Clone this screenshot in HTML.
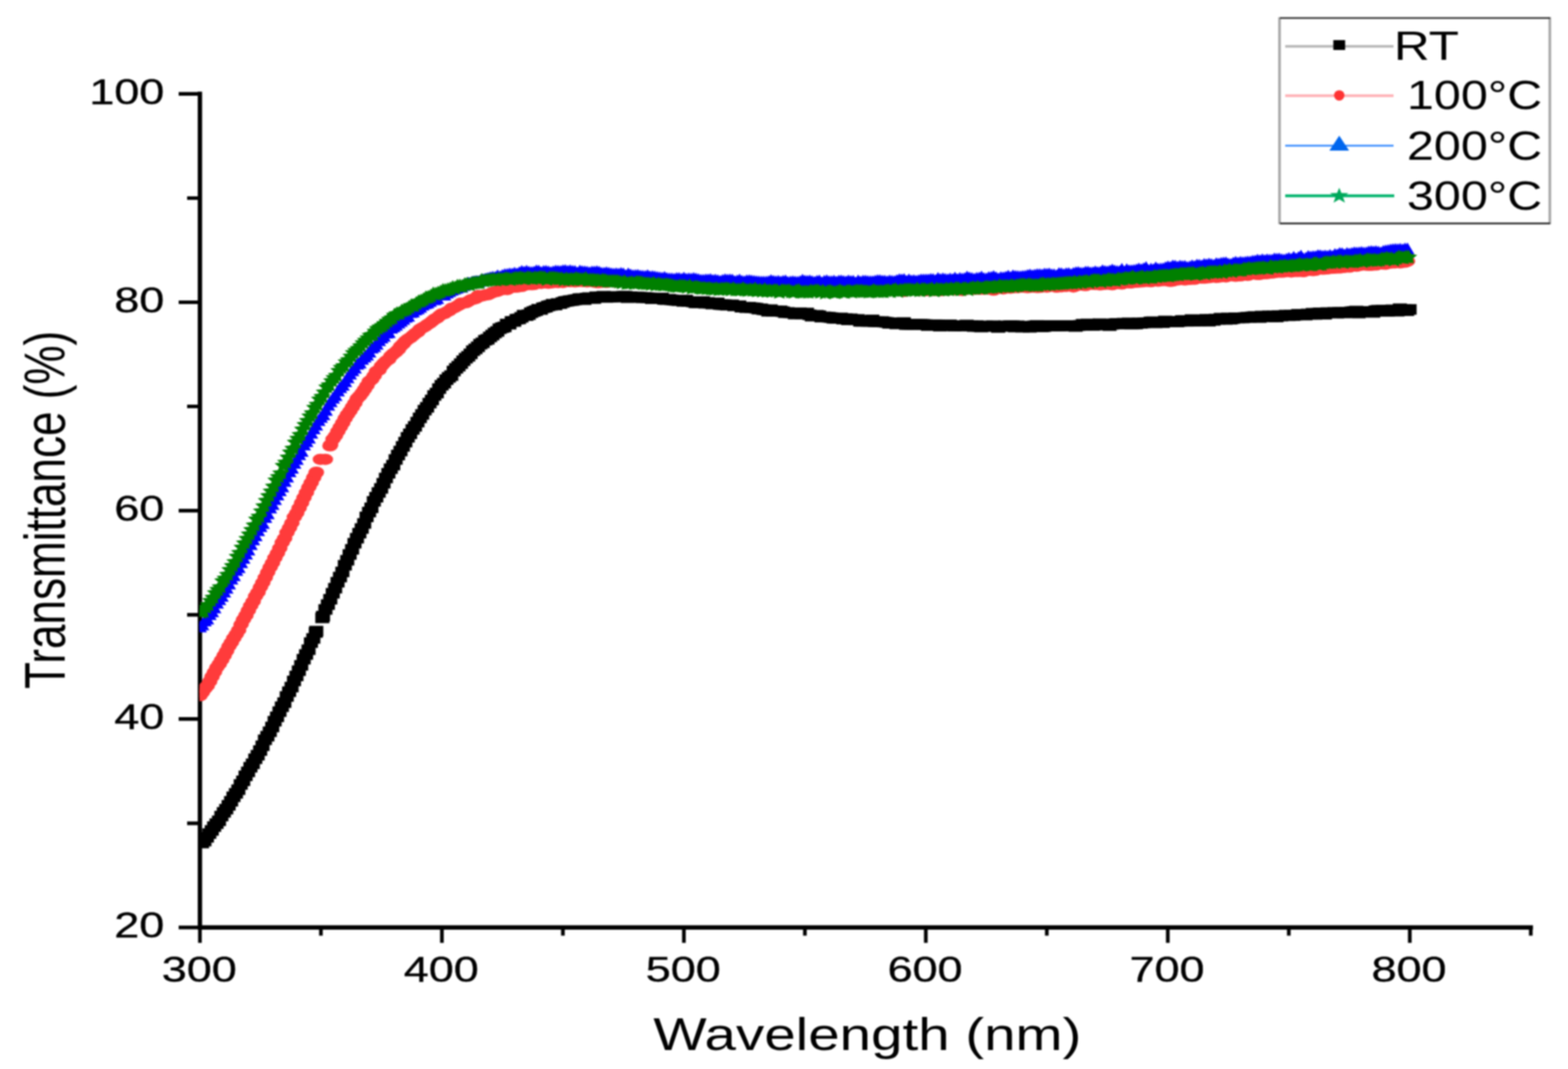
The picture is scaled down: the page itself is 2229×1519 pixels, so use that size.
<!DOCTYPE html>
<html><head><meta charset="utf-8"><title>Transmittance</title>
<style>html,body{margin:0;padding:0;background:#fff;overflow:hidden}svg{display:block}#w{filter:blur(1px)}</style>
</head><body><div id="w">
<svg width="2229" height="1519" viewBox="0 0 2229 1519">
<defs>
<marker id="mS" markerUnits="userSpaceOnUse" markerWidth="20" markerHeight="15" refX="10" refY="7.5" overflow="visible"><rect width="20" height="15" fill="#000"/></marker>
<marker id="mC" markerUnits="userSpaceOnUse" markerWidth="22" markerHeight="16" refX="11" refY="8" overflow="visible"><ellipse cx="11" cy="8" rx="11" ry="8" fill="#ff3b3b"/></marker>
<marker id="mT" markerUnits="userSpaceOnUse" markerWidth="20" markerHeight="17" refX="10" refY="9" overflow="visible"><path d="M10 0L20 17H0Z" fill="#0000ff"/></marker>
<marker id="mG" markerUnits="userSpaceOnUse" markerWidth="26" markerHeight="24" refX="13" refY="11.5" overflow="visible"><path d="M13.0 2.5 16.8 9.1 25.4 10.2 19.2 15.3 20.6 22.5 13.0 19.1 5.4 22.5 6.8 15.3 0.6 10.2 9.2 9.1Z" fill="#008000"/></marker>
<g id="glR" fill="#ff3b3b"><ellipse cx="455.5" cy="652.7" rx="11" ry="8"/><ellipse cx="462.5" cy="652.7" rx="11" ry="8"/></g>
<clipPath id="cp"><rect x="283.6" y="0" width="2000" height="1316"/></clipPath>
</defs>
<rect width="2229" height="1519" fill="#fff"/>
<g stroke="#000" stroke-width="6.2" fill="none" stroke-linecap="square">
<path d="M284.2 133.4V1317.8H2176.1"/>
</g>
<g stroke="#000" stroke-width="5.2" fill="none">
<path d="M254 1317.8H284.2M254 1021.7H284.2M254 725.6H284.2M254 429.5H284.2M254 133.4H284.2M266 1169.8H284.2M266 873.6H284.2M266 577.5H284.2M266 281.5H284.2M284.2 1317.8V1339.7M628.2 1317.8V1339.7M972.2 1317.8V1339.7M1316.1 1317.8V1339.7M1660.1 1317.8V1339.7M2004.1 1317.8V1339.7M456.2 1317.8V1329.5M800.2 1317.8V1329.5M1144.2 1317.8V1329.5M1488.1 1317.8V1329.5M1832.1 1317.8V1329.5M2176.1 1317.8V1329.5"/>
</g>
<g clip-path="url(#cp)">
<polyline fill="none" stroke="none" marker-start="url(#mS)" marker-mid="url(#mS)" marker-end="url(#mS)" points="287.2,1197.9 290.6,1195.1 294.1,1189.8 297.5,1184.5 301.0,1180.0 304.4,1174.6 307.8,1170.4 311.3,1166.3 314.7,1159.6 318.2,1154.3 321.6,1149.8 325.0,1144.3 328.5,1138.6 331.9,1132.2 335.4,1127.3 338.8,1122.1 342.2,1114.7 345.7,1109.5 349.1,1102.4 352.6,1096.8 356.0,1090.2 359.4,1085.3 362.9,1078.2 366.3,1073.1 369.8,1066.5 373.2,1059.7 376.6,1051.2 380.1,1046.1 383.5,1039.8 387.0,1033.0 390.4,1024.8 393.8,1018.6 397.3,1011.2 400.7,1004.2 404.2,998.4 407.6,989.7 411.0,982.9 414.5,976.3 417.9,967.6 421.4,960.5 424.8,953.0 428.2,945.4 431.7,936.7 435.1,930.0 438.6,923.2 442.0,913.1 445.4,907.2 448.9,898.7 449.6,896.8"/>
<polyline fill="none" stroke="none" marker-start="url(#mS)" marker-mid="url(#mS)" marker-end="url(#mS)" points="458.2,878.0 459.2,875.5 462.6,866.0 466.1,859.1 469.5,851.5 473.0,843.0 476.4,835.8 479.8,827.3 483.3,820.0 486.7,812.7 490.2,803.2 493.6,796.1 497.0,787.9 500.5,780.6 503.9,771.9 507.4,764.8 510.8,757.6 514.2,751.0 517.7,743.8 521.1,734.5 524.6,727.6 528.0,721.6 531.4,712.4 534.9,706.5 538.3,699.8 541.8,694.0 545.2,686.7 548.6,679.2 552.1,672.5 555.5,666.0 559.0,660.9 562.4,652.9 565.8,646.6 569.3,640.9 572.7,634.3 576.2,628.2 579.6,621.4 583.0,616.4 586.5,610.2 589.9,605.8 593.4,599.8 596.8,593.8 600.2,588.9 603.7,582.8 607.1,578.8 610.6,572.8 614.0,568.3 617.4,562.0 620.9,558.5 624.3,552.2 627.8,547.4 631.2,544.4 634.6,539.5 638.1,536.2 641.5,533.7 645.0,527.2 648.4,523.4 651.8,520.3 655.3,516.7 658.7,512.6 662.2,509.0 665.6,506.3 669.0,502.8 672.5,498.3 675.9,495.8 679.4,492.8 682.8,489.0 686.2,487.1 689.7,483.4 693.1,482.1 696.6,478.8 700.0,476.1 703.4,473.1 706.9,471.0 710.3,467.1 713.8,465.6 717.2,464.6 720.6,460.4 724.1,460.7 727.5,456.7 731.0,456.8 734.4,453.6 737.8,453.1 741.3,450.9 744.7,447.8 748.2,448.5 751.6,447.1 755.0,444.3 758.5,442.7 761.9,441.4 765.4,439.4 768.8,439.8 772.2,437.3 775.7,436.5 779.1,434.8 782.6,433.9 786.0,432.3 789.4,433.4 792.9,431.3 796.3,431.4 799.8,429.8 803.2,428.5 806.6,428.0 810.1,427.2 813.5,427.0 817.0,426.1 820.4,425.6 823.8,424.3 827.3,424.2 830.7,425.8 834.2,423.5 837.6,422.9 841.0,423.7 844.5,424.2 847.9,421.7 851.4,422.5 854.8,421.9 858.2,420.9 861.7,422.7 865.1,422.0 868.6,422.0 872.0,421.3 875.4,422.2 878.9,421.4 882.3,421.7 885.8,421.0 889.2,420.9 892.6,423.0 896.1,421.6 899.5,422.4 903.0,422.3 906.4,422.1 909.8,422.2 913.3,423.2 916.7,422.7 920.2,423.0 923.6,423.3 927.0,424.5 930.5,424.3 933.9,424.3 937.4,423.8 940.8,423.4 944.2,425.5 947.7,425.8 951.1,425.2 954.6,426.0 958.0,426.5 961.4,426.9 964.9,427.2 968.3,426.4 971.8,428.3 975.2,426.4 978.6,428.5 982.1,428.5 985.5,429.1 989.0,430.3 992.4,430.3 995.8,428.6 999.3,428.5 1002.7,430.9 1006.2,429.8 1009.6,430.9 1013.0,432.0 1016.5,430.4 1019.9,430.4 1023.4,432.7 1026.8,432.9 1030.2,433.0 1033.7,433.7 1037.1,433.4 1040.6,433.2 1044.0,434.7 1047.4,434.5 1050.9,434.4 1054.3,436.5 1057.8,436.4 1061.2,437.2 1064.6,436.5 1068.1,437.2 1071.5,437.4 1075.0,437.9 1078.4,439.2 1081.8,438.8 1085.3,440.1 1088.7,440.5 1092.2,442.3 1095.6,440.0 1099.0,442.3 1102.5,441.9 1105.9,442.4 1109.4,441.7 1112.8,442.9 1116.2,444.3 1119.7,444.0 1123.1,444.6 1126.6,444.7 1130.0,446.2 1133.4,445.7 1136.9,444.4 1140.3,446.0 1143.8,445.4 1147.2,444.8 1150.6,447.3 1154.1,449.2 1157.5,448.6 1161.0,448.0 1164.4,448.6 1167.8,450.6 1171.3,450.2 1174.7,450.5 1178.2,450.8 1181.6,451.3 1185.0,452.2 1188.5,452.4 1191.9,452.5 1195.4,451.8 1198.8,453.4 1202.2,452.8 1205.7,454.5 1209.1,453.0 1212.6,454.2 1216.0,454.6 1219.4,453.9 1222.9,456.6 1226.3,456.7 1229.8,455.5 1233.2,456.7 1236.6,456.7 1240.1,454.6 1243.5,457.2 1247.0,457.2 1250.4,457.5 1253.8,456.9 1257.3,457.7 1260.7,458.1 1264.2,459.4 1267.6,458.9 1271.0,458.9 1274.5,460.3 1277.9,458.9 1281.4,459.2 1284.8,458.3 1288.2,461.2 1291.7,460.9 1295.1,461.0 1298.6,461.0 1302.0,460.7 1305.4,461.0 1308.9,460.8 1312.3,461.0 1315.8,461.3 1319.2,462.6 1322.6,462.0 1326.1,461.7 1329.5,461.4 1333.0,461.5 1336.4,463.4 1339.8,462.6 1343.3,462.4 1346.7,462.1 1350.2,461.6 1353.6,462.6 1357.0,463.4 1360.5,462.5 1363.9,462.7 1367.4,462.8 1370.8,463.1 1374.2,461.8 1377.7,463.0 1381.1,462.6 1384.6,464.0 1388.0,462.7 1391.4,463.9 1394.9,464.7 1398.3,463.3 1401.8,463.1 1405.2,463.7 1408.6,463.6 1412.1,462.8 1415.5,464.0 1419.0,465.3 1422.4,463.5 1425.8,463.5 1429.3,462.9 1432.7,464.0 1436.2,462.7 1439.6,462.8 1443.0,464.7 1446.5,462.9 1449.9,464.5 1453.4,464.9 1456.8,463.8 1460.2,464.0 1463.7,465.1 1467.1,463.4 1470.6,463.0 1474.0,462.4 1477.4,463.4 1480.9,464.5 1484.3,464.1 1487.8,462.5 1491.2,462.5 1494.6,462.7 1498.1,463.3 1501.5,462.8 1505.0,463.1 1508.4,463.1 1511.8,462.6 1515.3,462.7 1518.7,462.8 1522.2,462.5 1525.6,462.9 1529.0,463.9 1532.5,462.8 1535.9,462.2 1539.4,460.7 1542.8,462.3 1546.2,460.3 1549.7,460.7 1553.1,462.4 1556.6,462.1 1560.0,461.3 1563.4,460.0 1566.9,460.9 1570.3,460.6 1573.8,461.5 1577.2,462.7 1580.6,460.9 1584.1,460.0 1587.5,459.6 1591.0,460.3 1594.4,460.1 1597.8,459.2 1601.3,460.0 1604.7,458.9 1608.2,460.6 1611.6,460.4 1615.0,460.3 1618.5,458.9 1621.9,459.5 1625.4,458.8 1628.8,458.5 1632.2,458.4 1635.7,457.4 1639.1,457.2 1642.6,458.8 1646.0,457.9 1649.4,458.0 1652.9,458.5 1656.3,456.1 1659.8,456.7 1663.2,457.3 1666.6,457.3 1670.1,456.6 1673.5,457.5 1677.0,456.7 1680.4,455.4 1683.8,455.4 1687.3,456.6 1690.7,456.2 1694.2,454.1 1697.6,456.5 1701.0,455.8 1704.5,456.2 1707.9,454.6 1711.4,454.5 1714.8,453.7 1718.2,456.4 1721.7,454.1 1725.1,455.3 1728.6,453.3 1732.0,453.8 1735.4,452.1 1738.9,453.0 1742.3,453.9 1745.8,451.9 1749.2,453.6 1752.6,452.8 1756.1,451.5 1759.5,451.8 1763.0,451.6 1766.4,451.8 1769.8,451.2 1773.3,450.8 1776.7,451.0 1780.2,450.2 1783.6,449.8 1787.0,450.6 1790.5,451.2 1793.9,449.1 1797.4,450.1 1800.8,449.4 1804.2,448.9 1807.7,450.2 1811.1,448.9 1814.6,450.4 1818.0,448.4 1821.4,449.1 1824.9,448.4 1828.3,447.8 1831.8,448.7 1835.2,447.9 1838.6,448.4 1842.1,447.7 1845.5,446.6 1849.0,447.2 1852.4,447.2 1855.8,447.7 1859.3,446.1 1862.7,446.6 1866.2,445.1 1869.6,446.8 1873.0,445.2 1876.5,444.5 1879.9,445.7 1883.4,446.5 1886.8,444.2 1890.2,444.4 1893.7,444.5 1897.1,444.0 1900.6,445.0 1904.0,443.9 1907.4,443.8 1910.9,444.7 1914.3,443.5 1917.8,444.3 1921.2,443.0 1924.6,442.6 1928.1,442.0 1931.5,444.8 1935.0,442.9 1938.4,443.2 1941.8,442.8 1945.3,442.8 1948.7,442.6 1952.2,443.9 1955.6,441.4 1959.0,440.9 1962.5,441.2 1965.9,440.8 1969.4,442.3 1972.8,442.3 1976.2,440.7 1979.7,440.2 1983.1,440.9 1986.6,442.2 1990.0,438.7 1993.4,441.3 1996.9,439.9 2000.3,441.5 2003.8,439.7"/>
<polyline fill="none" stroke="none" marker-start="url(#mC)" marker-mid="url(#mC)" marker-end="url(#mC)" points="284.2,988.5 287.6,984.0 291.1,978.7 294.5,974.7 298.0,968.4 301.4,961.5 304.8,955.2 308.3,948.3 311.7,943.5 315.2,937.7 318.6,931.5 322.0,925.3 325.5,918.3 328.9,912.9 332.4,906.6 335.8,901.3 339.2,895.4 342.7,887.3 346.1,880.3 349.6,874.4 353.0,867.4 356.4,860.7 359.9,854.6 363.3,847.1 366.8,841.7 370.2,834.3 373.6,827.8 377.1,820.6 380.5,813.3 384.0,806.2 387.4,799.8 390.8,792.6 394.3,786.2 397.7,779.0 401.2,770.8 404.6,764.9 408.0,756.6 411.5,750.1 414.9,743.2 418.4,734.6 421.8,729.1 425.2,721.9 428.7,714.5 432.1,707.1 435.6,699.9 439.0,692.3 442.4,685.8 445.9,678.5 449.3,672.0 449.7,671.0"/>
<polyline fill="none" stroke="none" marker-start="url(#mC)" marker-mid="url(#mC)" marker-end="url(#mC)" points="469.1,633.5 470.0,632.0 473.4,623.9 476.8,619.3 480.3,612.9 483.7,606.9 487.2,601.0 490.6,594.4 494.0,589.0 497.5,584.1 500.9,578.4 504.4,572.9 507.8,566.3 511.2,562.8 514.7,558.3 518.1,553.3 521.6,547.9 525.0,541.8 528.4,539.2 531.9,533.9 535.3,527.7 538.8,525.8 542.2,520.2 545.6,516.3 549.1,512.9 552.5,510.6 556.0,505.6 559.4,502.5 562.8,500.1 566.3,496.6 569.7,491.9 573.2,488.5 576.6,484.6 580.0,481.9 583.5,479.8 586.9,476.9 590.4,473.8 593.8,471.8 597.2,467.7 600.7,465.7 604.1,463.8 607.6,461.2 611.0,459.2 614.4,456.3 617.9,453.5 621.3,451.8 624.8,448.6 628.2,446.0 631.6,445.7 635.1,443.2 638.5,441.6 642.0,438.1 645.4,437.4 648.8,435.4 652.3,433.5 655.7,430.7 659.2,430.7 662.6,430.1 666.0,428.2 669.5,425.9 672.9,425.0 676.4,424.2 679.8,420.1 683.2,420.9 686.7,420.2 690.1,419.1 693.6,418.8 697.0,417.2 700.4,415.5 703.9,414.5 707.3,413.9 710.8,411.9 714.2,411.4 717.6,411.3 721.1,411.4 724.5,408.9 728.0,408.3 731.4,407.8 734.8,408.1 738.3,406.4 741.7,407.0 745.2,404.5 748.6,404.7 752.0,404.2 755.5,404.5 758.9,404.3 762.4,401.9 765.8,402.1 769.2,402.7 772.7,401.6 776.1,400.7 779.6,402.5 783.0,401.8 786.4,401.6 789.9,400.6 793.3,401.6 796.8,400.5 800.2,401.4 803.6,399.6 807.1,399.6 810.5,400.3 814.0,399.5 817.4,400.5 820.8,400.1 824.3,399.1 827.7,399.9 831.2,399.5 834.6,400.5 838.0,399.3 841.5,399.4 844.9,400.8 848.4,401.6 851.8,401.5 855.2,400.0 858.7,400.1 862.1,401.3 865.6,400.0 869.0,399.4 872.4,400.4 875.9,400.7 879.3,399.8 882.8,399.3 886.2,399.6 889.6,401.4 893.1,400.4 896.5,401.0 900.0,401.4 903.4,401.9 906.8,401.3 910.3,402.1 913.7,401.2 917.2,401.8 920.6,401.4 924.0,403.3 927.5,402.6 930.9,402.2 934.4,402.7 937.8,403.0 941.2,403.9 944.7,402.3 948.1,402.9 951.6,403.7 955.0,406.2 958.4,405.1 961.9,404.5 965.3,405.3 968.8,406.6 972.2,405.0 975.6,405.1 979.1,406.5 982.5,406.2 986.0,406.5 989.4,405.8 992.8,407.9 996.3,407.9 999.7,407.2 1003.2,407.5 1006.6,405.5 1010.0,407.8 1013.5,407.3 1016.9,408.0 1020.4,408.4 1023.8,407.7 1027.2,406.8 1030.7,408.6 1034.1,407.9 1037.6,408.4 1041.0,408.3 1044.4,408.7 1047.9,407.2 1051.3,410.2 1054.8,409.6 1058.2,410.4 1061.6,411.2 1065.1,409.8 1068.5,408.5 1072.0,409.3 1075.4,409.2 1078.8,409.9 1082.3,410.5 1085.7,408.9 1089.2,410.9 1092.6,409.5 1096.0,411.1 1099.5,410.9 1102.9,410.8 1106.4,411.1 1109.8,410.8 1113.2,410.9 1116.7,410.1 1120.1,411.5 1123.6,413.1 1127.0,413.3 1130.4,412.8 1133.9,412.4 1137.3,411.4 1140.8,413.2 1144.2,412.0 1147.6,412.1 1151.1,412.0 1154.5,412.3 1158.0,412.0 1161.4,412.3 1164.8,411.6 1168.3,412.2 1171.7,414.4 1175.2,412.5 1178.6,412.5 1182.0,413.1 1185.5,413.3 1188.9,411.9 1192.4,412.6 1195.8,413.6 1199.2,413.1 1202.7,413.0 1206.1,414.2 1209.6,412.4 1213.0,413.0 1216.4,412.6 1219.9,414.2 1223.3,411.4 1226.8,412.5 1230.2,412.6 1233.6,413.5 1237.1,413.5 1240.5,414.1 1244.0,411.8 1247.4,413.6 1250.8,412.8 1254.3,412.5 1257.7,413.4 1261.2,412.2 1264.6,411.3 1268.0,412.6 1271.5,411.7 1274.9,412.4 1278.4,413.2 1281.8,413.1 1285.2,414.1 1288.7,412.6 1292.1,411.5 1295.6,412.1 1299.0,411.9 1302.4,411.7 1305.9,412.9 1309.3,412.0 1312.8,410.9 1316.2,413.0 1319.6,412.3 1323.1,412.6 1326.5,412.4 1330.0,412.7 1333.4,412.2 1336.8,413.1 1340.3,412.4 1343.7,412.3 1347.2,412.2 1350.6,410.7 1354.0,411.6 1357.5,411.5 1360.9,411.8 1364.4,410.4 1367.8,412.8 1371.2,411.5 1374.7,410.3 1378.1,409.8 1381.6,410.9 1385.0,410.9 1388.4,410.4 1391.9,410.9 1395.3,410.2 1398.8,411.1 1402.2,410.0 1405.6,410.4 1409.1,411.1 1412.5,412.3 1416.0,409.3 1419.4,409.6 1422.8,409.2 1426.3,410.4 1429.7,408.7 1433.2,409.2 1436.6,409.4 1440.0,408.5 1443.5,408.4 1446.9,408.7 1450.4,407.2 1453.8,407.6 1457.2,408.3 1460.7,408.7 1464.1,408.3 1467.6,406.8 1471.0,407.8 1474.4,408.6 1477.9,408.3 1481.3,407.6 1484.8,406.9 1488.2,407.9 1491.6,406.8 1495.1,406.2 1498.5,406.3 1502.0,408.0 1505.4,406.8 1508.8,407.4 1512.3,406.0 1515.7,406.9 1519.2,405.5 1522.6,405.7 1526.0,407.7 1529.5,406.1 1532.9,405.0 1536.4,405.1 1539.8,405.3 1543.2,405.8 1546.7,404.3 1550.1,403.1 1553.6,404.1 1557.0,404.2 1560.4,404.1 1563.9,404.8 1567.3,403.9 1570.8,404.1 1574.2,402.4 1577.6,403.7 1581.1,404.5 1584.5,403.3 1588.0,402.7 1591.4,402.4 1594.8,403.5 1598.3,401.2 1601.7,401.6 1605.2,401.9 1608.6,401.9 1612.0,400.7 1615.5,401.1 1618.9,400.5 1622.4,400.6 1625.8,400.2 1629.2,399.2 1632.7,399.8 1636.1,400.3 1639.6,398.7 1643.0,399.0 1646.4,399.5 1649.9,397.9 1653.3,398.7 1656.8,397.5 1660.2,399.0 1663.6,399.8 1667.1,399.3 1670.5,397.3 1674.0,397.8 1677.4,397.1 1680.8,396.9 1684.3,397.8 1687.7,395.3 1691.2,397.0 1694.6,395.8 1698.0,396.8 1701.5,395.6 1704.9,394.6 1708.4,395.2 1711.8,395.3 1715.2,394.5 1718.7,394.6 1722.1,393.6 1725.6,392.0 1729.0,394.2 1732.4,393.8 1735.9,393.1 1739.3,392.8 1742.8,393.4 1746.2,391.9 1749.6,391.5 1753.1,391.6 1756.5,392.5 1760.0,390.2 1763.4,392.0 1766.8,390.3 1770.3,389.6 1773.7,391.3 1777.2,389.9 1780.6,388.7 1784.0,389.2 1787.5,390.0 1790.9,389.9 1794.4,388.4 1797.8,388.8 1801.2,388.8 1804.7,387.4 1808.1,387.9 1811.6,387.4 1815.0,386.7 1818.4,386.5 1821.9,386.7 1825.3,386.4 1828.8,385.6 1832.2,385.5 1835.6,386.4 1839.1,385.4 1842.5,385.7 1846.0,385.7 1849.4,384.9 1852.8,386.0 1856.3,383.2 1859.7,384.3 1863.2,383.1 1866.6,384.5 1870.0,384.1 1873.5,380.9 1876.9,381.5 1880.4,382.5 1883.8,382.3 1887.2,382.0 1890.7,381.1 1894.1,381.2 1897.6,381.1 1901.0,380.2 1904.4,380.8 1907.9,377.9 1911.3,379.9 1914.8,378.3 1918.2,379.6 1921.6,378.4 1925.1,377.6 1928.5,378.3 1932.0,377.0 1935.4,376.7 1938.8,375.9 1942.3,376.8 1945.7,376.9 1949.2,377.1 1952.6,375.8 1956.0,376.5 1959.5,375.4 1962.9,375.0 1966.4,375.3 1969.8,375.4 1973.2,373.9 1976.7,373.7 1980.1,373.5 1983.6,373.4 1987.0,372.3 1990.4,373.6 1993.9,372.1 1997.3,372.5 2000.8,371.2"/>
<use href="#glR"/>
<polyline fill="none" stroke="none" marker-start="url(#mT)" marker-mid="url(#mT)" marker-end="url(#mT)" points="284.2,890.6 287.6,887.5 291.1,882.1 294.5,879.3 298.0,873.0 301.4,869.1 304.8,863.4 308.3,856.8 311.7,851.7 315.2,846.9 318.6,841.1 322.0,835.4 325.5,829.4 328.9,822.4 332.4,817.8 335.8,810.2 339.2,806.2 342.7,799.2 346.1,793.0 349.6,787.1 353.0,781.2 356.4,773.5 359.9,766.8 363.3,760.9 366.8,753.7 370.2,748.1 373.6,743.6 377.1,735.0 380.5,729.8 384.0,721.6 387.4,716.4 390.8,709.4 394.3,703.1 397.7,697.1 401.2,691.6 404.6,683.8 408.0,677.4 411.5,670.1 414.9,665.0 418.4,658.0 421.8,652.6 425.2,645.7 428.7,641.0 432.1,631.9 435.6,627.2 439.0,622.2 442.4,615.3 445.9,609.1 449.3,603.8 452.8,597.2 456.2,592.8 459.6,589.1 463.1,582.7 466.5,575.5 470.0,570.4 473.4,565.6 476.8,561.7 480.3,555.2 483.7,550.4 487.2,546.9 490.6,542.1 494.0,536.5 497.5,531.3 500.9,526.5 504.4,522.8 507.8,517.3 511.2,515.5 514.7,510.3 518.1,507.1 521.6,504.3 525.0,499.9 528.4,494.2 531.9,492.2 535.3,488.8 538.8,483.7 542.2,480.1 545.6,477.4 549.1,472.9 552.5,472.2 556.0,466.0 559.4,464.0 562.8,461.7 566.3,458.8 569.7,456.3 573.2,453.6 576.6,450.5 580.0,449.0 583.5,443.8 586.9,443.1 590.4,440.1 593.8,438.5 597.2,436.3 600.7,433.2 604.1,431.2 607.6,430.3 611.0,427.9 614.4,425.2 617.9,425.5 621.3,423.9 624.8,419.1 628.2,418.8 631.6,418.9 635.1,415.9 638.5,413.9 642.0,412.1 645.4,410.4 648.8,409.3 652.3,407.7 655.7,407.4 659.2,405.3 662.6,404.1 666.0,402.3 669.5,402.1 672.9,400.4 676.4,399.9 679.8,399.9 683.2,398.4 686.7,397.6 690.1,396.6 693.6,395.6 697.0,394.6 700.4,393.7 703.9,393.9 707.3,391.7 710.8,393.0 714.2,391.3 717.6,390.1 721.1,389.7 724.5,389.1 728.0,389.2 731.4,388.1 734.8,389.1 738.3,387.2 741.7,385.6 745.2,386.5 748.6,385.2 752.0,386.5 755.5,387.1 758.9,386.5 762.4,384.7 765.8,385.0 769.2,386.9 772.7,385.6 776.1,385.2 779.6,386.0 783.0,387.0 786.4,386.1 789.9,385.1 793.3,385.3 796.8,385.5 800.2,384.6 803.6,384.3 807.1,385.2 810.5,384.5 814.0,385.3 817.4,385.6 820.8,387.5 824.3,385.1 827.7,385.8 831.2,386.0 834.6,386.6 838.0,387.3 841.5,386.3 844.9,386.2 848.4,385.8 851.8,386.6 855.2,388.0 858.7,387.9 862.1,387.3 865.6,388.1 869.0,388.7 872.4,389.3 875.9,388.7 879.3,389.3 882.8,388.3 886.2,389.1 889.6,391.6 893.1,388.9 896.5,390.6 900.0,391.4 903.4,391.2 906.8,391.1 910.3,392.0 913.7,392.3 917.2,392.5 920.6,391.4 924.0,393.0 927.5,392.7 930.9,393.2 934.4,394.0 937.8,394.6 941.2,395.0 944.7,394.1 948.1,395.5 951.6,395.9 955.0,396.1 958.4,396.5 961.9,395.5 965.3,395.6 968.8,396.6 972.2,395.0 975.6,396.5 979.1,396.0 982.5,396.3 986.0,395.4 989.4,396.2 992.8,397.1 996.3,397.9 999.7,398.1 1003.2,397.4 1006.6,397.5 1010.0,397.1 1013.5,398.2 1016.9,397.8 1020.4,398.6 1023.8,399.6 1027.2,398.3 1030.7,397.2 1034.1,397.8 1037.6,397.4 1041.0,397.7 1044.4,399.8 1047.9,399.0 1051.3,397.7 1054.8,399.5 1058.2,400.1 1061.6,398.8 1065.1,398.6 1068.5,399.0 1072.0,399.5 1075.4,399.9 1078.8,400.3 1082.3,400.4 1085.7,400.4 1089.2,400.6 1092.6,400.1 1096.0,398.4 1099.5,399.5 1102.9,399.9 1106.4,399.4 1109.8,400.5 1113.2,399.5 1116.7,399.0 1120.1,401.0 1123.6,400.4 1127.0,400.0 1130.4,400.6 1133.9,400.7 1137.3,400.1 1140.8,397.9 1144.2,399.3 1147.6,399.5 1151.1,399.1 1154.5,400.0 1158.0,400.8 1161.4,399.5 1164.8,399.0 1168.3,401.5 1171.7,399.5 1175.2,398.8 1178.6,400.0 1182.0,400.1 1185.5,399.2 1188.9,400.4 1192.4,399.3 1195.8,398.9 1199.2,399.8 1202.7,400.2 1206.1,399.1 1209.6,399.8 1213.0,399.4 1216.4,401.7 1219.9,398.9 1223.3,400.5 1226.8,399.3 1230.2,399.2 1233.6,399.8 1237.1,399.9 1240.5,400.1 1244.0,399.3 1247.4,398.5 1250.8,398.5 1254.3,399.3 1257.7,399.3 1261.2,399.9 1264.6,399.0 1268.0,399.5 1271.5,399.8 1274.9,398.6 1278.4,397.2 1281.8,397.4 1285.2,397.1 1288.7,399.4 1292.1,397.4 1295.6,399.0 1299.0,398.4 1302.4,399.2 1305.9,398.5 1309.3,397.5 1312.8,397.4 1316.2,397.5 1319.6,397.5 1323.1,396.8 1326.5,397.1 1330.0,398.3 1333.4,395.6 1336.8,397.0 1340.3,396.0 1343.7,396.7 1347.2,397.2 1350.6,396.3 1354.0,396.9 1357.5,394.9 1360.9,396.9 1364.4,395.4 1367.8,396.3 1371.2,395.8 1374.7,393.4 1378.1,394.8 1381.6,395.4 1385.0,396.4 1388.4,395.2 1391.9,395.1 1395.3,393.6 1398.8,395.7 1402.2,395.9 1405.6,394.3 1409.1,394.0 1412.5,392.7 1416.0,394.6 1419.4,395.9 1422.8,394.2 1426.3,394.4 1429.7,393.7 1433.2,392.3 1436.6,394.0 1440.0,391.8 1443.5,392.5 1446.9,392.7 1450.4,393.0 1453.8,392.5 1457.2,392.3 1460.7,391.2 1464.1,390.6 1467.6,391.6 1471.0,390.8 1474.4,390.1 1477.9,390.0 1481.3,390.4 1484.8,389.2 1488.2,389.4 1491.6,389.0 1495.1,390.3 1498.5,390.3 1502.0,391.4 1505.4,388.4 1508.8,388.8 1512.3,389.9 1515.7,388.8 1519.2,388.6 1522.6,390.0 1526.0,388.2 1529.5,387.3 1532.9,387.0 1536.4,388.1 1539.8,387.9 1543.2,386.4 1546.7,386.5 1550.1,387.5 1553.6,387.3 1557.0,386.1 1560.4,387.0 1563.9,386.7 1567.3,384.6 1570.8,385.6 1574.2,386.0 1577.6,385.0 1581.1,383.5 1584.5,384.8 1588.0,385.4 1591.4,385.8 1594.8,382.6 1598.3,386.2 1601.7,383.0 1605.2,384.5 1608.6,384.5 1612.0,384.1 1615.5,383.2 1618.9,381.9 1622.4,383.1 1625.8,381.8 1629.2,380.1 1632.7,384.2 1636.1,382.3 1639.6,382.9 1643.0,380.5 1646.4,382.2 1649.9,382.0 1653.3,381.8 1656.8,380.3 1660.2,379.1 1663.6,379.7 1667.1,377.8 1670.5,378.0 1674.0,379.2 1677.4,378.1 1680.8,378.5 1684.3,378.3 1687.7,379.7 1691.2,379.0 1694.6,377.6 1698.0,378.4 1701.5,376.6 1704.9,376.7 1708.4,377.4 1711.8,375.5 1715.2,376.0 1718.7,374.9 1722.1,375.8 1725.6,376.8 1729.0,374.6 1732.4,375.1 1735.9,374.0 1739.3,373.5 1742.8,373.2 1746.2,375.1 1749.6,375.6 1753.1,373.8 1756.5,372.6 1760.0,373.5 1763.4,372.4 1766.8,373.0 1770.3,372.4 1773.7,372.1 1777.2,372.1 1780.6,370.9 1784.0,370.8 1787.5,369.4 1790.9,370.2 1794.4,369.1 1797.8,369.9 1801.2,369.0 1804.7,369.6 1808.1,369.6 1811.6,367.8 1815.0,368.0 1818.4,367.7 1821.9,368.7 1825.3,369.2 1828.8,368.3 1832.2,367.1 1835.6,368.2 1839.1,365.6 1842.5,367.7 1846.0,365.7 1849.4,363.8 1852.8,367.8 1856.3,366.7 1859.7,364.3 1863.2,365.0 1866.6,364.4 1870.0,364.4 1873.5,362.9 1876.9,363.2 1880.4,363.9 1883.8,363.4 1887.2,363.9 1890.7,362.7 1894.1,364.3 1897.6,361.5 1901.0,362.0 1904.4,360.0 1907.9,360.3 1911.3,362.0 1914.8,360.0 1918.2,360.8 1921.6,360.1 1925.1,359.0 1928.5,359.3 1932.0,358.9 1935.4,358.6 1938.8,359.3 1942.3,359.0 1945.7,357.7 1949.2,357.2 1952.6,357.8 1956.0,357.2 1959.5,357.9 1962.9,358.9 1966.4,357.1 1969.8,356.2 1973.2,355.8 1976.7,354.9 1980.1,354.6 1983.6,354.2 1987.0,354.4 1990.4,354.1 1993.9,354.8 1997.3,353.6 2000.8,353.5"/>
<polyline fill="none" stroke="none" marker-start="url(#mG)" marker-mid="url(#mG)" marker-end="url(#mG)" points="285.7,868.3 289.1,866.9 292.6,861.2 296.0,857.4 299.5,851.6 302.9,847.0 306.3,840.5 309.8,835.9 313.2,832.1 316.7,823.5 320.1,819.8 323.5,814.5 327.0,807.6 330.4,802.0 333.9,796.3 337.3,788.7 340.7,783.3 344.2,775.9 347.6,769.7 351.1,763.3 354.5,757.1 357.9,750.7 361.4,744.2 364.8,735.9 368.3,731.9 371.7,724.3 375.1,717.1 378.6,709.3 382.0,702.6 385.5,696.1 388.9,689.1 392.3,680.4 395.8,675.5 399.2,670.3 402.7,659.6 406.1,655.1 409.5,647.8 413.0,640.6 416.4,635.2 419.9,626.5 423.3,621.1 426.7,615.7 430.2,608.0 433.6,601.5 437.1,595.8 440.5,589.3 443.9,584.9 447.4,577.1 450.8,572.8 454.3,565.4 457.7,561.5 461.1,555.4 464.6,548.1 468.0,545.1 471.5,539.2 474.9,534.8 478.3,531.6 481.8,524.7 485.2,520.2 488.7,517.8 492.1,512.4 495.5,509.4 499.0,504.3 502.4,499.3 505.9,496.1 509.3,493.4 512.7,489.5 516.2,485.2 519.6,481.7 523.1,478.3 526.5,474.6 529.9,473.5 533.4,468.9 536.8,465.0 540.3,462.7 543.7,460.9 547.1,458.1 550.6,454.8 554.0,451.8 557.5,449.9 560.9,446.1 564.3,444.1 567.8,443.6 571.2,440.3 574.7,438.9 578.1,437.6 581.5,435.1 585.0,432.6 588.4,432.5 591.9,429.5 595.3,426.9 598.7,426.0 602.2,424.1 605.6,421.5 609.1,420.7 612.5,419.0 615.9,416.1 619.4,416.2 622.8,414.7 626.3,413.3 629.7,411.1 633.1,410.9 636.6,410.1 640.0,409.1 643.5,407.0 646.9,407.4 650.3,405.0 653.8,404.8 657.2,405.2 660.7,402.7 664.1,402.1 667.5,402.7 671.0,400.8 674.4,400.2 677.9,400.0 681.3,400.0 684.7,396.8 688.2,397.4 691.6,396.8 695.1,396.2 698.5,396.0 701.9,395.6 705.4,396.2 708.8,394.9 712.3,395.4 715.7,395.3 719.1,394.1 722.6,394.6 726.0,395.6 729.5,394.4 732.9,393.4 736.3,393.8 739.8,392.9 743.2,393.8 746.7,394.2 750.1,392.8 753.5,393.2 757.0,394.3 760.4,392.9 763.9,393.5 767.3,392.5 770.7,392.7 774.2,393.0 777.6,395.3 781.1,393.3 784.5,393.3 787.9,393.3 791.4,393.8 794.8,394.5 798.3,394.3 801.7,395.9 805.1,394.6 808.6,395.7 812.0,394.9 815.5,395.4 818.9,393.9 822.3,395.1 825.8,395.4 829.2,395.4 832.7,394.1 836.1,396.7 839.5,395.9 843.0,396.1 846.4,396.4 849.9,396.6 853.3,397.4 856.7,396.2 860.2,396.7 863.6,398.0 867.1,398.1 870.5,397.9 873.9,398.0 877.4,398.0 880.8,398.9 884.3,400.1 887.7,398.6 891.1,400.9 894.6,400.6 898.0,399.8 901.5,401.0 904.9,399.5 908.3,399.5 911.8,400.1 915.2,401.1 918.7,401.4 922.1,401.5 925.5,402.3 929.0,400.8 932.4,403.1 935.9,401.8 939.3,402.7 942.7,403.2 946.2,402.8 949.6,402.9 953.1,403.4 956.5,404.5 959.9,405.2 963.4,405.4 966.8,404.4 970.3,404.8 973.7,405.0 977.1,406.3 980.6,404.5 984.0,407.4 987.5,406.2 990.9,406.2 994.3,407.3 997.8,408.1 1001.2,407.7 1004.7,408.5 1008.1,408.0 1011.5,409.0 1015.0,409.2 1018.4,408.4 1021.9,409.8 1025.3,408.9 1028.7,409.0 1032.2,408.4 1035.6,409.1 1039.1,410.1 1042.5,408.6 1045.9,410.3 1049.4,410.2 1052.8,410.3 1056.3,408.4 1059.7,410.2 1063.1,411.0 1066.6,410.0 1070.0,410.8 1073.5,408.9 1076.9,411.5 1080.3,410.5 1083.8,411.9 1087.2,409.8 1090.7,411.9 1094.1,411.3 1097.5,412.2 1101.0,410.9 1104.4,411.2 1107.9,413.6 1111.3,411.2 1114.7,411.4 1118.2,411.8 1121.6,411.3 1125.1,413.1 1128.5,413.6 1131.9,411.7 1135.4,410.9 1138.8,413.3 1142.3,413.3 1145.7,413.1 1149.1,413.4 1152.6,411.8 1156.0,412.4 1159.5,411.4 1162.9,411.4 1166.3,413.4 1169.8,412.1 1173.2,414.4 1176.7,412.7 1180.1,412.1 1183.5,413.3 1187.0,414.1 1190.4,413.0 1193.9,411.6 1197.3,412.9 1200.7,413.7 1204.2,412.2 1207.6,411.9 1211.1,413.3 1214.5,412.6 1217.9,411.6 1221.4,412.1 1224.8,411.8 1228.3,412.6 1231.7,412.4 1235.1,413.2 1238.6,412.8 1242.0,410.9 1245.5,412.4 1248.9,412.8 1252.3,412.3 1255.8,412.7 1259.2,411.4 1262.7,411.0 1266.1,412.5 1269.5,410.8 1273.0,409.8 1276.4,412.3 1279.9,410.8 1283.3,411.1 1286.7,410.1 1290.2,410.1 1293.6,410.1 1297.1,410.6 1300.5,411.1 1303.9,408.9 1307.4,411.2 1310.8,409.6 1314.3,409.5 1317.7,410.8 1321.1,410.1 1324.6,408.8 1328.0,411.4 1331.5,409.1 1334.9,409.9 1338.3,409.7 1341.8,410.6 1345.2,408.9 1348.7,410.0 1352.1,408.4 1355.5,409.8 1359.0,408.1 1362.4,408.3 1365.9,410.0 1369.3,408.5 1372.7,408.2 1376.2,409.8 1379.6,408.1 1383.1,407.0 1386.5,408.1 1389.9,406.4 1393.4,408.1 1396.8,408.0 1400.3,406.4 1403.7,406.2 1407.1,406.7 1410.6,406.4 1414.0,405.4 1417.5,406.4 1420.9,404.2 1424.3,405.3 1427.8,405.1 1431.2,405.0 1434.7,405.3 1438.1,403.9 1441.5,405.2 1445.0,404.3 1448.4,403.8 1451.9,403.0 1455.3,403.0 1458.7,404.0 1462.2,402.7 1465.6,403.3 1469.1,403.9 1472.5,403.7 1475.9,403.9 1479.4,402.2 1482.8,401.4 1486.3,402.9 1489.7,402.1 1493.1,402.5 1496.6,401.4 1500.0,402.1 1503.5,401.6 1506.9,401.3 1510.3,400.9 1513.8,400.6 1517.2,400.2 1520.7,400.0 1524.1,400.4 1527.5,399.0 1531.0,400.5 1534.4,398.8 1537.9,399.5 1541.3,398.4 1544.7,398.0 1548.2,399.6 1551.6,397.5 1555.1,396.5 1558.5,396.7 1561.9,396.8 1565.4,398.5 1568.8,396.7 1572.3,397.0 1575.7,395.2 1579.1,396.1 1582.6,396.1 1586.0,396.7 1589.5,394.5 1592.9,395.3 1596.3,394.8 1599.8,393.5 1603.2,394.0 1606.7,393.6 1610.1,391.7 1613.5,393.7 1617.0,393.4 1620.4,392.4 1623.9,391.4 1627.3,393.4 1630.7,392.2 1634.2,392.5 1637.6,392.6 1641.1,390.8 1644.5,391.6 1647.9,390.5 1651.4,390.4 1654.8,390.1 1658.3,389.9 1661.7,390.5 1665.1,389.4 1668.6,389.0 1672.0,388.6 1675.5,388.8 1678.9,387.6 1682.3,387.6 1685.8,387.7 1689.2,387.0 1692.7,387.1 1696.1,386.4 1699.5,388.3 1703.0,387.5 1706.4,386.5 1709.9,385.8 1713.3,387.3 1716.7,385.6 1720.2,385.0 1723.6,385.0 1727.1,384.7 1730.5,385.4 1733.9,383.9 1737.4,385.4 1740.8,382.7 1744.3,383.7 1747.7,382.1 1751.1,384.1 1754.6,382.1 1758.0,382.0 1761.5,382.5 1764.9,382.5 1768.3,380.4 1771.8,380.7 1775.2,379.6 1778.7,380.5 1782.1,380.1 1785.5,379.6 1789.0,379.1 1792.4,379.1 1795.9,378.5 1799.3,379.2 1802.7,379.8 1806.2,376.7 1809.6,377.9 1813.1,377.4 1816.5,377.9 1819.9,376.5 1823.4,376.8 1826.8,375.9 1830.3,377.0 1833.7,376.2 1837.1,375.8 1840.6,375.9 1844.0,375.2 1847.5,373.9 1850.9,375.3 1854.3,374.8 1857.8,374.2 1861.2,374.8 1864.7,374.8 1868.1,372.7 1871.5,372.7 1875.0,374.3 1878.4,373.9 1881.9,371.9 1885.3,371.3 1888.7,371.5 1892.2,371.4 1895.6,370.2 1899.1,371.3 1902.5,370.0 1905.9,369.8 1909.4,371.2 1912.8,369.7 1916.3,370.0 1919.7,370.3 1923.1,370.2 1926.6,369.0 1930.0,369.1 1933.5,368.1 1936.9,369.9 1940.3,368.8 1943.8,367.2 1947.2,367.8 1950.7,368.2 1954.1,367.8 1957.5,368.6 1961.0,368.0 1964.4,366.2 1967.9,366.4 1971.3,365.2 1974.7,366.2 1978.2,365.9 1981.6,367.7 1985.1,365.4 1988.5,363.4 1991.9,364.3 1995.4,364.8 1998.8,363.4 2002.3,363.5"/>
</g>
<text transform="translate(283.2 1395) scale(1.29 1)" text-anchor="middle" font-size="49.5" font-family="Liberation Sans, Arial, sans-serif" stroke="#000" stroke-width="0.45">300</text>
<text transform="translate(627.2 1395) scale(1.29 1)" text-anchor="middle" font-size="49.5" font-family="Liberation Sans, Arial, sans-serif" stroke="#000" stroke-width="0.45">400</text>
<text transform="translate(971.2 1395) scale(1.29 1)" text-anchor="middle" font-size="49.5" font-family="Liberation Sans, Arial, sans-serif" stroke="#000" stroke-width="0.45">500</text>
<text transform="translate(1315.1 1395) scale(1.29 1)" text-anchor="middle" font-size="49.5" font-family="Liberation Sans, Arial, sans-serif" stroke="#000" stroke-width="0.45">600</text>
<text transform="translate(1659.1 1395) scale(1.29 1)" text-anchor="middle" font-size="49.5" font-family="Liberation Sans, Arial, sans-serif" stroke="#000" stroke-width="0.45">700</text>
<text transform="translate(2003.1 1395) scale(1.29 1)" text-anchor="middle" font-size="49.5" font-family="Liberation Sans, Arial, sans-serif" stroke="#000" stroke-width="0.45">800</text>
<text transform="translate(233.5 1332.1) scale(1.29 1)" text-anchor="end" font-size="49.5" font-family="Liberation Sans, Arial, sans-serif" stroke="#000" stroke-width="0.45">20</text>
<text transform="translate(233.5 1036.0) scale(1.29 1)" text-anchor="end" font-size="49.5" font-family="Liberation Sans, Arial, sans-serif" stroke="#000" stroke-width="0.45">40</text>
<text transform="translate(233.5 739.9) scale(1.29 1)" text-anchor="end" font-size="49.5" font-family="Liberation Sans, Arial, sans-serif" stroke="#000" stroke-width="0.45">60</text>
<text transform="translate(233.5 443.8) scale(1.29 1)" text-anchor="end" font-size="49.5" font-family="Liberation Sans, Arial, sans-serif" stroke="#000" stroke-width="0.45">80</text>
<text transform="translate(233.5 147.7) scale(1.29 1)" text-anchor="end" font-size="49.5" font-family="Liberation Sans, Arial, sans-serif" stroke="#000" stroke-width="0.45">100</text>
<text transform="translate(1233 1491.5) scale(1.255 1)" text-anchor="middle" font-size="64" font-family="Liberation Sans, Arial, sans-serif">Wavelength (nm)</text>
<text transform="translate(92 724.5) rotate(-90) scale(1 1.3)" text-anchor="middle" font-size="62.6" font-family="Liberation Sans, Arial, sans-serif">Transmittance (%)</text>
<rect x="1818.9" y="25.6" width="384.3" height="291.9" fill="#fff"/>
<path d="M1818.9 24.5V318.6M2203.2 24.5V318.6" stroke="#a8a8a8" stroke-width="3.8" fill="none"/>
<path d="M1819.5 25.6H2203.5M1819.5 317.5H2203.5" stroke="#262626" stroke-width="2.4" fill="none"/>
<line x1="1827" y1="65.9" x2="1981" y2="65.9" stroke="#b8b8b8" stroke-width="3.6"/>
<rect x="1895.4" y="57" width="16.8" height="14" fill="#000"/>
<line x1="1827" y1="136" x2="1981" y2="136" stroke="#ffb4b8" stroke-width="4"/>
<circle cx="1903.8" cy="135.6" r="7.4" fill="#ff3333"/>
<line x1="1827" y1="207" x2="1981" y2="207" stroke="#2f86ff" stroke-width="2.6"/>
<path d="M1903.8 192.7L1917.8 214H1889.8Z" fill="#0066ee"/>
<line x1="1827" y1="278.3" x2="1982" y2="278.3" stroke="#00b36b" stroke-width="4"/>
<path d="M1903.8 266.8L1906.9 274.2 1916.8 274.6 1909 279.8 1912 288 1903.8 283.2 1895.6 288 1898.6 279.8 1890.8 274.6 1900.7 274.2Z" fill="#00a85a"/>
<text transform="translate(1981.5 84.5) scale(1.235 1)" font-size="57" font-family="Liberation Sans, Arial, sans-serif">RT</text>
<text transform="translate(2000 155) scale(1.21 1)" font-size="57" font-family="Liberation Sans, Arial, sans-serif">100°C</text>
<text transform="translate(2000 226.5) scale(1.21 1)" font-size="57" font-family="Liberation Sans, Arial, sans-serif">200°C</text>
<text transform="translate(2000 297.5) scale(1.21 1)" font-size="57" font-family="Liberation Sans, Arial, sans-serif">300°C</text>
</svg>
</div></body></html>
